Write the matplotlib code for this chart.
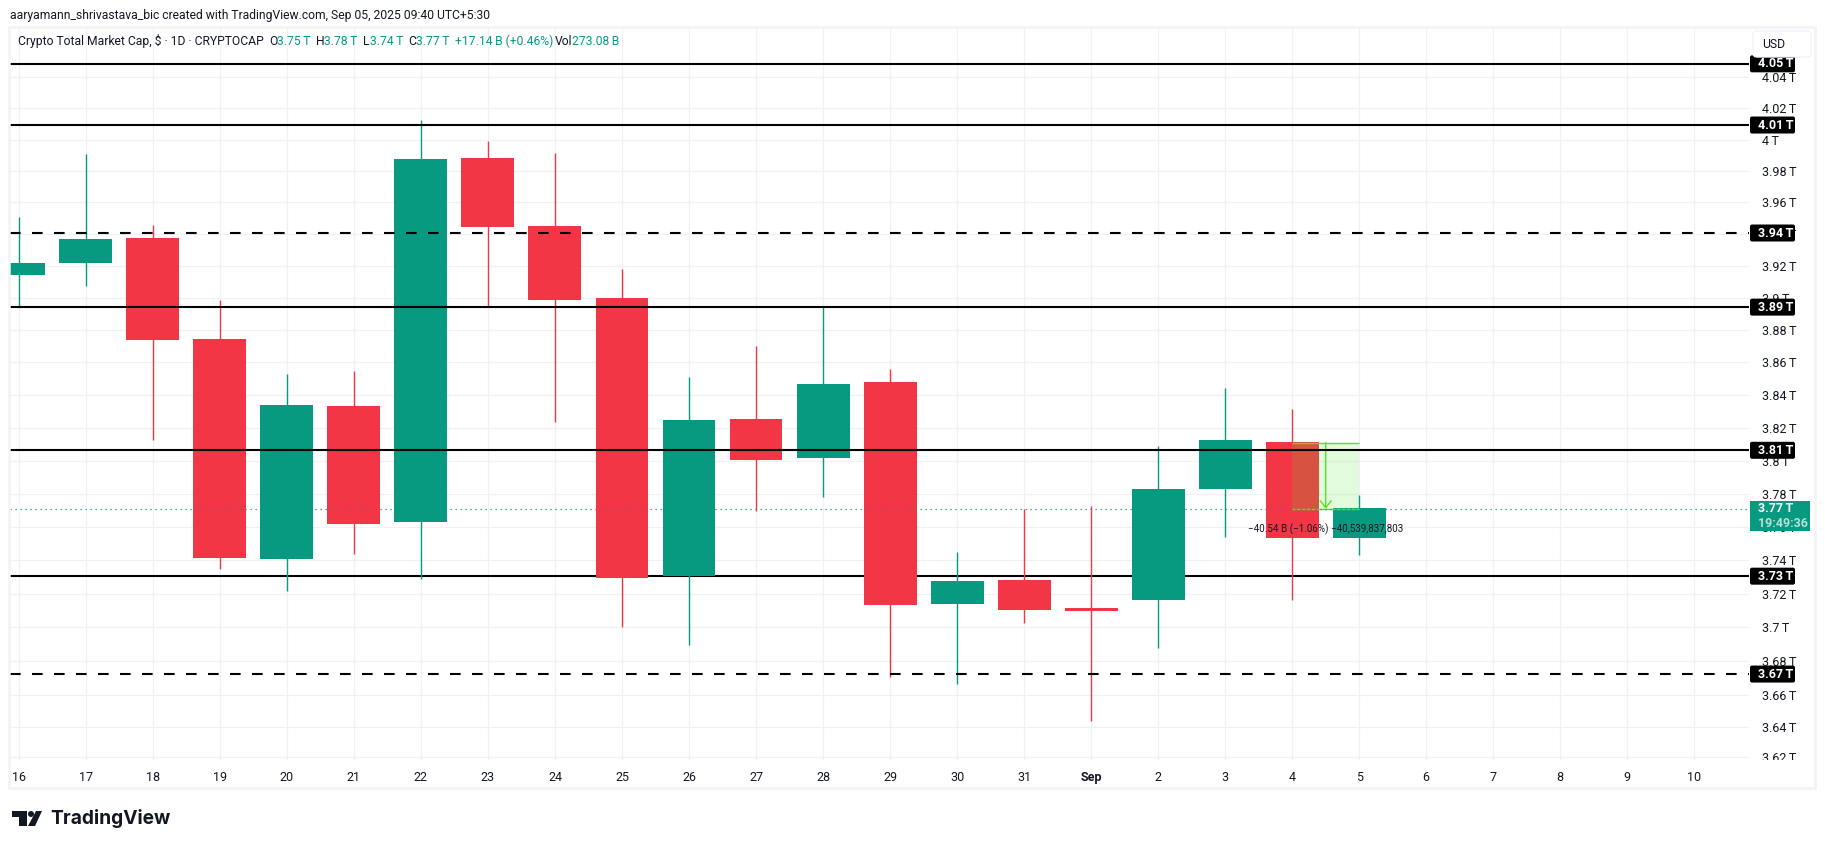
#!/usr/bin/env python3
"""Crypto total market cap daily candles with support/resistance levels"""

import matplotlib
matplotlib.use('Agg')
import matplotlib.pyplot as plt
from matplotlib.patches import FancyBboxPatch, Polygon, Circle, Rectangle
from matplotlib.transforms import Bbox, IdentityTransform

plt.rcParams['font.family'] = ['Roboto', 'DejaVu Sans']

W, H = 1825, 849
GREEN = '#089981'
RED = '#F23645'
INK = '#131722'
GRID = '#F0F1F3'
MEASURE = '#4CE826'

# candles, Aug 16 to Sep 5 (values in trillions)
opens = [3.9143, 3.9218, 3.9375, 3.8745, 3.7405, 3.8332, 3.7628, 3.9882, 3.9451, 3.8999,
         3.7304, 3.8252, 3.8015, 3.8479, 3.7137, 3.7280, 3.7113, 3.7161, 3.7827, 3.8111, 3.7531]
closes = [3.9218, 3.9369, 3.8739, 3.7411, 3.8338, 3.7616, 3.9876, 3.9445, 3.8987, 3.7291,
          3.8246, 3.8002, 3.8467, 3.7131, 3.7274, 3.7101, 3.7095, 3.7827, 3.8123, 3.7531, 3.7712]
highs = [3.9508, 3.9908, 3.9457, 3.8987, 3.8529, 3.8547, 4.0125, 3.9990, 3.9914, 3.9180,
         3.8510, 3.8701, 3.8942, 3.8560, 3.7447, 3.7708, 3.7725, 3.8087, 3.8442, 3.8313, 3.7790]
lows = [3.8945, 3.9074, 3.8124, 3.7345, 3.7216, 3.7435, 3.7286, 3.8950, 3.8234, 3.7004,
        3.6897, 3.7695, 3.7778, 3.6708, 3.6666, 3.7024, 3.6452, 3.6877, 3.7537, 3.7161, 3.7429]

date_labels = ['16', '17', '18', '19', '20', '21', '22', '23', '24', '25', '26', '27', '28',
               '29', '30', '31', 'Sep', '2', '3', '4', '5', '6', '7', '8', '9', '10']

# price axis ticks; the last two sit slightly off their rounded labels
price_ticks = [4.04, 4.02, 4.0, 3.98, 3.96, 3.94, 3.92, 3.90, 3.88, 3.86, 3.84, 3.82, 3.80,
               3.78, 3.76, 3.74, 3.72, 3.70, 3.68, 3.66, 3.6417, 3.6240]
price_labels = ['4.04\u2009T', '4.02\u2009T', '4\u2009T', '3.98\u2009T', '3.96\u2009T', '3.94\u2009T',
                '3.92\u2009T', '3.9\u2009T', '3.88\u2009T', '3.86\u2009T', '3.84\u2009T', '3.82\u2009T',
                '3.8\u2009T', '3.78\u2009T', '3.76\u2009T', '3.74\u2009T', '3.72\u2009T', '3.7\u2009T',
                '3.68\u2009T', '3.66\u2009T', '3.64\u2009T', '3.62\u2009T']

solid_levels = [4.0487, 4.0093, 3.8943, 3.8062]
solid_labels = ['4.05\u2009T', '4.01\u2009T', '3.89\u2009T', '3.81\u2009T']
support_level = 3.7304
support_label = '3.73\u2009T'
dashed_levels = [3.9407, 3.6725]
dashed_labels = ['3.94\u2009T', '3.67\u2009T']

last_price = 3.7708
measure_top = 3.8109
measure_days = [19, 20]

X_MIN, X_MAX = -0.1313, 25.816

fig = plt.figure(figsize=(W / 100, H / 100), dpi=100, facecolor='white')
ax = fig.add_axes([10 / W, (H - 760) / H, 1739 / W, 733 / H])
ax.set_yscale('log')
ax.set_xlim(X_MIN, X_MAX)
ax.set_ylim(3.6224, 4.0726)
for side in ax.spines.values():
    side.set_visible(False)
ax.set_axisbelow(True)

ax.set_xticks(range(len(date_labels)), labels=date_labels)
ax.set_yticks(price_ticks, labels=price_labels)
ax.minorticks_off()
ax.yaxis.tick_right()
ax.tick_params(axis='y', length=0, pad=9, labelsize=9.0, labelcolor=INK)
ax.tick_params(axis='x', length=0, pad=8, labelsize=9.0, labelcolor=INK)
ax.grid(True, color=GRID, linewidth=0.9)
ax.get_xticklabels()[16].set_fontweight('bold')

# last tick label is cut by the bottom of the pane
for lab in ax.get_yticklabels():
    lab.set_clip_on(True)
    lab.set_clip_box(Bbox([[0, H - 760], [W, H]]))

ax.axhline(support_level, color='black', lw=1.5, zorder=1)

for i, (o, c, hi, lo) in enumerate(zip(opens, closes, highs, lows)):
    col = GREEN if c >= o else RED
    ax.vlines(i, lo, hi, color=col, lw=1.0, zorder=2)
    ax.bar(i, abs(c - o), bottom=min(o, c), width=0.79, color=col, linewidth=0, zorder=2.1)

# measuring tool
ax.fill_between(measure_days, last_price, measure_top, color=MEASURE, alpha=0.16, lw=0, zorder=2.5)
ax.hlines([last_price, measure_top], measure_days[0], measure_days[1], color=MEASURE, lw=1.0, zorder=2.6)
ax.annotate('', xy=(19.5, last_price), xytext=(19.5, measure_top), zorder=2.6,
            arrowprops=dict(arrowstyle='->,head_length=0.5,head_width=0.4', color=MEASURE, lw=1.0,
                            shrinkA=0, shrinkB=0))

for lev in solid_levels:
    ax.axhline(lev, color='black', lw=1.5, zorder=3)
for lev in dashed_levels:
    ax.plot([X_MIN, X_MAX], [lev, lev], color='black', lw=1.5, zorder=3, dashes=(5.1, 5.46))
ax.axhline(last_price, color=GREEN, lw=0.9, ls=(0, (1, 3)), zorder=3.5)


def px_text(x, y, s, **kw):
    # x, y in image pixels from the top left
    kw.setdefault('fontsize', 8.7)
    kw.setdefault('color', INK)
    kw.setdefault('va', 'center')
    return fig.text(x, H - y, s, transform=IdentityTransform(), **kw)


def price_y(val):
    return ax.transData.transform((0, val))[1]


def tag(val, label, color='black', height=17, width=45):
    y = price_y(val)
    fig.add_artist(FancyBboxPatch((1750, y - height / 2), width, height, transform=IdentityTransform(),
                                  boxstyle='round,pad=0,rounding_size=2', fc=color, ec='none', zorder=2))
    fig.text(1758, y, label, transform=IdentityTransform(), color='white', fontsize=9.0,
             fontweight='bold', va='center', zorder=3)


for lev, lab in zip(solid_levels + [support_level] + dashed_levels,
                    solid_labels + [support_label] + dashed_labels):
    tag(lev, lab)

# current price tag
y0 = price_y(last_price)
fig.add_artist(Rectangle((1750, y0 - 22.7), 60, 30.7, transform=IdentityTransform(), fc=GREEN, ec='none', zorder=2))
fig.text(1758, y0, '3.77\u2009T', transform=IdentityTransform(), color='white', fontsize=9.0,
         fontweight='bold', va='center', zorder=3)
fig.text(1758, y0 - 15, '19:49:36', transform=IdentityTransform(), color='#B5E0D8', fontsize=9.0,
         fontweight='bold', va='center', zorder=3)

# measure labels
xm = ax.transData.transform((19.5, 0))[0]
fig.text(xm, H - 529.7, '\u221240.54 B (\u22121.06%) \u221240,539,837,803', transform=IdentityTransform(),
         fontsize=7.1, color=INK, ha='center', va='center', zorder=3)

# frame around the chart
fig.add_artist(Rectangle((9, H - 788), 1806, 761, transform=IdentityTransform(), fc='none',
                         ec='#F2F3F5', lw=1.8, zorder=1))

# currency button
fig.add_artist(FancyBboxPatch((1753, H - 57), 58, 26, transform=IdentityTransform(),
                              boxstyle='round,pad=0,rounding_size=4', fc='white', ec='#F0F3FA', lw=1, zorder=5))
px_text(1762, 44.5, 'USD', fontsize=8.8, zorder=6)

# header
px_text(10, 15, 'aaryamann_shrivastava_bic created with TradingView.com, Sep 05, 2025 09:40 UTC+5:30')
legend_parts = [
    (18, 'Crypto Total Market Cap, $ \u00b7 1D \u00b7 CRYPTOCAP', INK),
    (269, 'O', INK), (277, '3.75\u2009T', GREEN),
    (316, 'H', INK), (324, '3.78\u2009T', GREEN),
    (363, 'L', INK), (369.7, '3.74\u2009T', GREEN),
    (408, 'C', INK), (416, '3.77\u2009T', GREEN),
    (455, '+17.14\u2009B (+0.46%)', GREEN),
    (555, 'Vol', INK), (572, '273.08\u2009B', GREEN),
]
for x, s, col in legend_parts:
    px_text(x, 41.5, s, color=col)

# logo
logo = [Polygon([(12, 811), (27, 811), (27, 826), (19, 826), (19, 817), (12, 817)], closed=True),
        Circle((31, 814), 3),
        Polygon([(36, 811), (42, 811), (35, 826), (28, 826)], closed=True)]
for p in logo:
    if isinstance(p, Circle):
        p = Circle((p.center[0], H - p.center[1]), p.radius, transform=IdentityTransform(), fc=INK, ec='none')
    else:
        xy = [(x, H - y) for x, y in p.get_xy()]
        p = Polygon(xy, closed=True, transform=IdentityTransform(), fc=INK, ec='none')
    fig.add_artist(p)
px_text(50, 819, 'TradingView', family='Inter', fontsize=13.8, fontweight='bold')

plt.savefig('out.png', dpi=100)
